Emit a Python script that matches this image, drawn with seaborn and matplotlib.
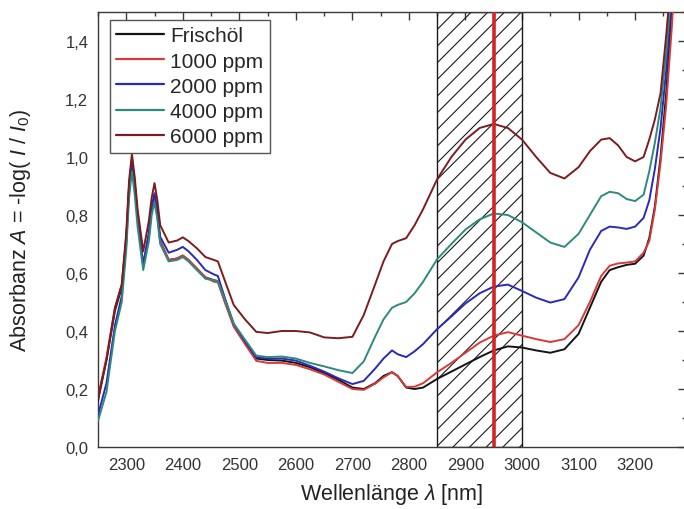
import matplotlib
matplotlib.use("Agg")
import matplotlib.pyplot as plt
import pandas as pd
import seaborn as sns
from matplotlib.ticker import MultipleLocator, FuncFormatter

# NIR absorbance spectra of fresh oil and contaminated samples
wavelength = [2250, 2265, 2280, 2292, 2300, 2305, 2310, 2315, 2320, 2330,
              2340, 2345, 2350, 2355, 2360, 2375, 2390, 2400, 2410, 2425,
              2440, 2455, 2462, 2475, 2490, 2510, 2530, 2550, 2575, 2600,
              2625, 2650, 2675, 2700, 2720, 2740, 2755, 2770, 2780, 2795,
              2810, 2825, 2850, 2875, 2900, 2925, 2950, 2975, 3000, 3025,
              3050, 3075, 3100, 3120, 3140, 3155, 3170, 3185, 3200, 3215,
              3225, 3235, 3245, 3255, 3265, 3275]

frischoel = [0.16, 0.30, 0.47, 0.55, 0.72, 0.90, 0.99, 0.91, 0.79, 0.625,
             0.73, 0.82, 0.865, 0.80, 0.71, 0.645, 0.65, 0.66, 0.645, 0.615,
             0.585, 0.575, 0.572, 0.50, 0.42, 0.36, 0.305, 0.30, 0.298, 0.29,
             0.275, 0.255, 0.232, 0.205, 0.20, 0.22, 0.245, 0.258, 0.245, 0.205,
             0.20, 0.205, 0.235, 0.26, 0.285, 0.31, 0.333, 0.347, 0.343, 0.333,
             0.325, 0.337, 0.39, 0.48, 0.57, 0.61, 0.62, 0.628, 0.632, 0.66,
             0.72, 0.83, 1.00, 1.22, 1.52, 1.90]

ppm_1000 = [0.17, 0.31, 0.48, 0.56, 0.72, 0.90, 0.99, 0.91, 0.79, 0.625,
            0.73, 0.82, 0.865, 0.80, 0.71, 0.645, 0.65, 0.66, 0.645, 0.615,
            0.585, 0.57, 0.568, 0.495, 0.415, 0.355, 0.297, 0.29, 0.29, 0.283,
            0.268, 0.25, 0.225, 0.20, 0.197, 0.218, 0.24, 0.258, 0.245, 0.207,
            0.208, 0.22, 0.258, 0.29, 0.325, 0.36, 0.384, 0.396, 0.384, 0.372,
            0.362, 0.372, 0.42, 0.50, 0.59, 0.625, 0.633, 0.636, 0.64, 0.67,
            0.71, 0.82, 0.98, 1.18, 1.45, 1.80]

ppm_2000 = [0.11, 0.22, 0.42, 0.52, 0.70, 0.89, 0.98, 0.90, 0.79, 0.63,
            0.74, 0.83, 0.875, 0.815, 0.725, 0.67, 0.68, 0.69, 0.675, 0.645,
            0.61, 0.595, 0.59, 0.51, 0.425, 0.365, 0.31, 0.305, 0.305, 0.298,
            0.28, 0.26, 0.237, 0.217, 0.228, 0.27, 0.305, 0.333, 0.32, 0.31,
            0.33, 0.355, 0.407, 0.45, 0.495, 0.53, 0.553, 0.56, 0.538, 0.515,
            0.498, 0.51, 0.585, 0.68, 0.745, 0.76, 0.757, 0.752, 0.76, 0.79,
            0.85, 0.96, 1.10, 1.30, 1.56, 1.90]

ppm_4000 = [0.09, 0.19, 0.40, 0.50, 0.68, 0.86, 0.95, 0.87, 0.76, 0.61,
            0.71, 0.80, 0.845, 0.785, 0.70, 0.64, 0.645, 0.655, 0.64, 0.61,
            0.58, 0.575, 0.572, 0.505, 0.425, 0.37, 0.315, 0.31, 0.312, 0.305,
            0.29, 0.278, 0.265, 0.255, 0.295, 0.38, 0.44, 0.48, 0.49, 0.50,
            0.53, 0.57, 0.648, 0.70, 0.75, 0.785, 0.805, 0.80, 0.775, 0.74,
            0.705, 0.69, 0.735, 0.80, 0.865, 0.88, 0.875, 0.855, 0.848, 0.87,
            0.95, 1.05, 1.17, 1.36, 1.60, 1.95]

ppm_6000 = [0.17, 0.30, 0.48, 0.56, 0.74, 0.92, 1.01, 0.93, 0.82, 0.675,
            0.78, 0.86, 0.91, 0.85, 0.765, 0.705, 0.712, 0.723, 0.71, 0.685,
            0.655, 0.645, 0.64, 0.57, 0.49, 0.44, 0.397, 0.393, 0.40, 0.40,
            0.395, 0.378, 0.375, 0.38, 0.455, 0.56, 0.64, 0.70, 0.71, 0.72,
            0.765, 0.82, 0.924, 1.00, 1.06, 1.10, 1.114, 1.10, 1.06, 1.00,
            0.945, 0.926, 0.965, 1.02, 1.06, 1.065, 1.04, 1.00, 0.985, 1.00,
            1.06, 1.13, 1.22, 1.42, 1.65, 2.00]

sample_labels = ["Frischöl", "1000 ppm", "2000 ppm", "4000 ppm", "6000 ppm"]
sample_colors = ["#141414", "#d63a3a", "#2a2ab8", "#2e8a7c", "#7a1c20"]

# evaluated band and the analysis wavelength inside it
band_start, band_end = 2850, 3000
analysis_wavelength = 2950

frames = []
for label, values in zip(sample_labels,
                         [frischoel, ppm_1000, ppm_2000, ppm_4000, ppm_6000]):
    frames.append(pd.DataFrame({"wl": wavelength, "A": values, "Probe": label}))
df = pd.concat(frames, ignore_index=True)

sns.set_theme(style="white")
plt.rcParams["font.family"] = ["Liberation Sans", "DejaVu Sans"]
plt.rcParams["mathtext.fontset"] = "custom"
plt.rcParams["mathtext.rm"] = "Liberation Sans"
plt.rcParams["mathtext.it"] = "Liberation Sans:italic"
plt.rcParams["hatch.linewidth"] = 0.8

fig = plt.figure(figsize=(6.84, 5.10), dpi=100)
ax = fig.add_axes([98 / 684, 62 / 510, 588 / 684, 435 / 510])

ax.axvspan(band_start, band_end, facecolor="none", edgecolor="#1a1a1a",
           hatch="//", linewidth=1.0, zorder=1)

sns.lineplot(data=df, x="wl", y="A", hue="Probe", hue_order=sample_labels,
             palette=sample_colors, linewidth=1.4, estimator=None, sort=False,
             ax=ax, zorder=3)

ax.axvline(analysis_wavelength, color="#d42424", linewidth=2.6, zorder=4)

ax.set_xlim(2250, 3290)
ax.set_ylim(0, 1.5)
ax.xaxis.set_major_locator(MultipleLocator(100))
ax.xaxis.set_minor_locator(MultipleLocator(50))
ax.yaxis.set_major_locator(MultipleLocator(0.2))
ax.yaxis.set_minor_locator(MultipleLocator(0.1))
ax.yaxis.set_major_formatter(FuncFormatter(lambda v, _: f"{v:.1f}".replace(".", ",")))
ax.xaxis.set_major_formatter(FuncFormatter(lambda v, _: f"{v:.0f}"))

for side in ax.spines.values():
    side.set_color("#3a3a3a")
    side.set_linewidth(1.0)

ax.tick_params(which="both", direction="in", top=True, right=True,
               color="#3a3a3a", width=1.0)
ax.tick_params(which="major", length=6, labelsize=12, pad=7,
               labelcolor="#333333")
ax.tick_params(which="minor", length=3)

ax.set_xlabel(r"Wellenlänge $\lambda$ [nm]", fontsize=15.5, color="#222222",
              labelpad=7)
ax.set_ylabel(r"Absorbanz $A$ = -log( $I$ / $I_0$)", fontsize=15.5,
              color="#222222", labelpad=23)

handles, labels = ax.get_legend_handles_labels()
leg = ax.legend(handles, labels, loc="upper left",
                bbox_to_anchor=(12 / 588, 427 / 435), borderaxespad=0,
                fontsize=15, handlelength=2.3, handletextpad=0.3,
                labelspacing=0.3, borderpad=0.3, frameon=True, fancybox=False,
                framealpha=1.0, edgecolor="#555555")
leg.get_frame().set_linewidth(1.0)
for line in leg.get_lines():
    line.set_linewidth(1.6)

fig.savefig("out.png", dpi=100)
